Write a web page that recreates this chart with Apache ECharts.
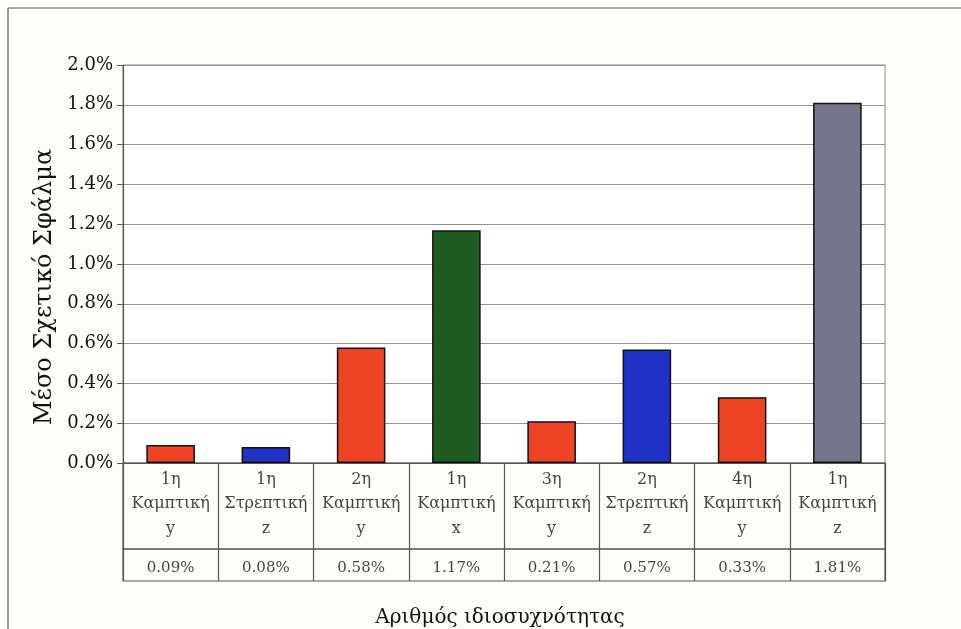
<!DOCTYPE html>
<html>
<head>
<meta charset="utf-8">
<script src="https://cdn.jsdelivr.net/npm/echarts@6/dist/echarts.min.js"></script>
<style>
  html, body { margin: 0; padding: 0; background: #fdfdfa; }
  #chart { width: 961px; height: 629px; }
</style>
</head>
<body>
<div id="chart"></div>
<script>
// Mode ordinal, mode type and dominant direction for each eigenfrequency
const ordinals = ['1η', '1η', '2η', '1η', '3η', '2η', '4η', '1η'];
const modeTypes = ['Καμπτική', 'Στρεπτική', 'Καμπτική', 'Καμπτική', 'Καμπτική', 'Στρεπτική', 'Καμπτική', 'Καμπτική'];
const directions = ['y', 'z', 'y', 'x', 'y', 'z', 'y', 'z'];
// Mean relative error (%)
const meanError = [0.09, 0.08, 0.58, 1.17, 0.21, 0.57, 0.33, 1.81];
// Y axis ticks (%)
const yTicks = [0.0, 0.2, 0.4, 0.6, 0.8, 1.0, 1.2, 1.4, 1.6, 1.8, 2.0];

const barColors = ['#ee4324', '#1f32c4', '#ee4324', '#1e5c22', '#ee4324', '#1f32c4', '#ee4324', '#76768a'];

const categories = ordinals.map((o, i) => o + '\n' + modeTypes[i] + '\n' + directions[i]);

const serif = '"DejaVu Serif", "Liberation Serif", serif';
const left = 123, right = 961 - 885;
const lineCol = '#555';
const textCol = '#111';

const chart = echarts.init(document.getElementById('chart'));
chart.setOption({
  backgroundColor: '#fdfdfa',
  animation: false,
  textStyle: { fontFamily: serif, color: textCol },
  grid: [
    { left: left, right: right, top: 65, bottom: 629 - 463, show: true, borderColor: '#888', borderWidth: 1, backgroundColor: '#ffffff' },
    { left: left, right: right, top: 463, height: 86, show: true, borderColor: lineCol, borderWidth: 1.2 },
    { left: left, right: right, top: 549, height: 35, show: true, borderColor: lineCol, borderWidth: 1.2 }
  ],
  xAxis: [
    { type: 'category', gridIndex: 0, data: categories,
      axisLine: { show: true, lineStyle: { color: lineCol, width: 1.2 } },
      axisTick: { show: false }, axisLabel: { show: false }, splitLine: { show: false } },
    { type: 'category', gridIndex: 1, data: categories,
      axisLine: { show: false }, axisTick: { show: false }, axisLabel: { show: false },
      splitLine: { show: true, lineStyle: { color: lineCol, width: 1.2 } } },
    { type: 'category', gridIndex: 2, data: categories,
      axisLine: { show: false }, axisTick: { show: false }, axisLabel: { show: false },
      splitLine: { show: true, lineStyle: { color: lineCol, width: 1.2 } },
      name: 'Αριθμός ιδιοσυχνότητας', nameLocation: 'middle', nameGap: 27,
      nameTextStyle: { fontFamily: serif, fontSize: 20, color: textCol, padding: [0, 8, 0, 0] } }
  ],
  yAxis: [
    { type: 'value', gridIndex: 0, min: 0, max: 2, interval: 0.2,
      axisLine: { show: true, lineStyle: { color: lineCol, width: 1.2 } },
      axisTick: { show: true, length: 6, lineStyle: { color: lineCol } },
      axisLabel: { fontFamily: serif, fontSize: 18, color: textCol, margin: 10,
        formatter: v => {
          const t = yTicks.find(x => Math.abs(x - v) < 1e-9);
          return (t !== undefined ? t : v).toFixed(1) + '%';
        } },
      splitLine: { show: true, lineStyle: { color: '#959583', width: 1 } },
      name: 'Μέσο Σχετικό Σφάλμα', nameLocation: 'middle', nameGap: 66,
      nameTextStyle: { fontFamily: serif, fontSize: 24, color: textCol, padding: [0, 46, 0, 0] } },
    { type: 'value', gridIndex: 1, min: 0, max: 1, show: false },
    { type: 'value', gridIndex: 2, min: 0, max: 1, show: false }
  ],
  series: [
    { type: 'bar', xAxisIndex: 0, yAxisIndex: 0, barWidth: '51%',
      data: meanError.map((v, i) => ({ value: v, itemStyle: { color: barColors[i] } })),
      itemStyle: { borderColor: '#111', borderWidth: 1.5 } },
    { type: 'scatter', xAxisIndex: 1, yAxisIndex: 1, symbolSize: 0, silent: true,
      data: categories.map(c => [c, 0.5]),
      label: { show: true, position: 'inside', offset: [0, -2], fontFamily: serif, fontSize: 16, color: textCol, lineHeight: 24.5,
        formatter: p => p.data[0] } },
    { type: 'scatter', xAxisIndex: 2, yAxisIndex: 2, symbolSize: 0, silent: true,
      data: meanError.map((v, i) => [categories[i], 0.5, v]),
      label: { show: true, position: 'inside', offset: [0, 3], fontFamily: serif, fontSize: 15, color: textCol,
        formatter: p => p.data[2].toFixed(2) + '%' } }
  ],
  graphic: [
    { type: 'line', shape: { x1: 8, y1: 8, x2: 8, y2: 629 }, style: { stroke: '#777', lineWidth: 1.5 } },
    { type: 'line', shape: { x1: 8, y1: 8, x2: 961, y2: 8 }, style: { stroke: '#888', lineWidth: 1.5 } }
  ]
});
</script>
</body>
</html>
